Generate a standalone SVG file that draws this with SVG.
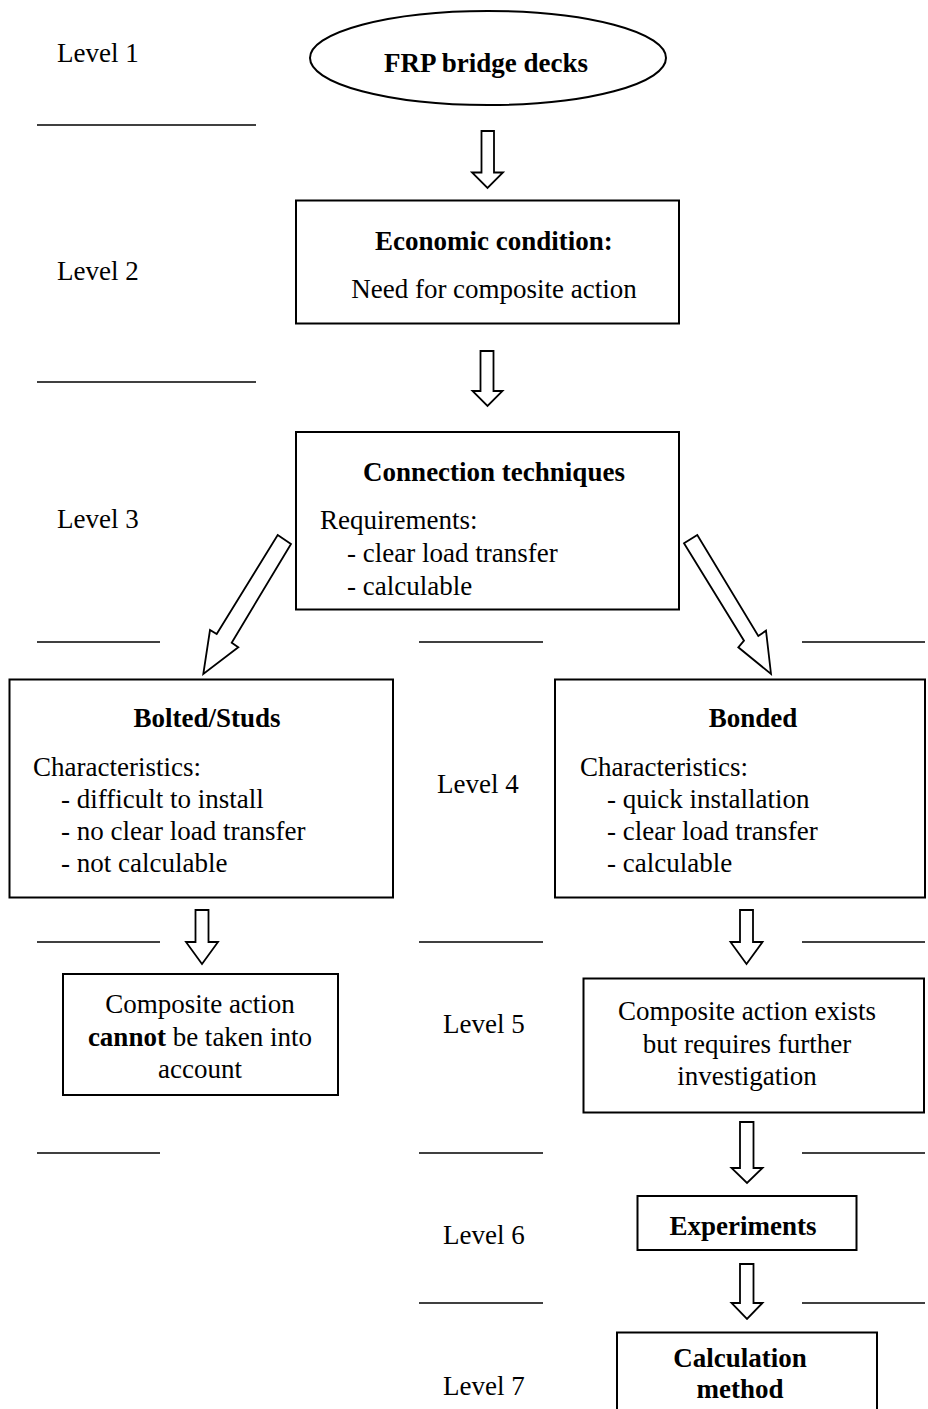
<svg xmlns="http://www.w3.org/2000/svg" width="928" height="1409" viewBox="0 0 928 1409">
<style>
text{font-family:"Liberation Serif","Times New Roman",serif;font-size:27px;fill:#000}
.b{font-weight:bold}
.c{text-anchor:middle}
.box{fill:#fff;stroke:#000;stroke-width:2}
.sep{stroke:#000;stroke-width:1.5}
.arr{fill:#fff;stroke:#000;stroke-width:1.8;stroke-linejoin:miter}
</style>
<rect width="928" height="1409" fill="#fff"/>
<g id="levels">
<text x="57" y="62">Level 1</text>
<text x="57" y="280">Level 2</text>
<text x="57" y="528">Level 3</text>
<text x="437" y="793">Level 4</text>
<text x="443" y="1033">Level 5</text>
<text x="443" y="1244">Level 6</text>
<text x="443" y="1395">Level 7</text>
</g>
<g id="separators">
<line class="sep" x1="37" y1="125" x2="256" y2="125"/>
<line class="sep" x1="37" y1="382" x2="256" y2="382"/>
<line class="sep" x1="37" y1="642" x2="160" y2="642"/>
<line class="sep" x1="419" y1="642" x2="543" y2="642"/>
<line class="sep" x1="802" y1="642" x2="925" y2="642"/>
<line class="sep" x1="37" y1="942" x2="160" y2="942"/>
<line class="sep" x1="419" y1="942" x2="543" y2="942"/>
<line class="sep" x1="802" y1="942" x2="925" y2="942"/>
<line class="sep" x1="37" y1="1153" x2="160" y2="1153"/>
<line class="sep" x1="419" y1="1153" x2="543" y2="1153"/>
<line class="sep" x1="802" y1="1153" x2="925" y2="1153"/>
<line class="sep" x1="419" y1="1303" x2="543" y2="1303"/>
<line class="sep" x1="802" y1="1303" x2="925" y2="1303"/>
</g>
<g id="connectors">
<polygon class="arr" points="481.5,131 494,131 494,172.5 503,172.5 487.5,188 472,172.5 481.5,172.5"/>
<polygon class="arr" points="480.5,351 493.5,351 493.5,391 502.5,391 487.5,406 472.5,391 480.5,391"/>
<polygon class="arr" points="277.7,535 291,544 231.7,642.7 238.3,647.3 203.3,674 210,630 216.7,634"/>
<polygon class="arr" points="684,543.3 697.3,535 758.3,636 766,630.7 771,674 738.3,647.3 744,640.7"/>
<polygon class="arr" points="195.5,910 208.5,910 208.5,942 218,942 202,964 186,942 195.5,942"/>
<polygon class="arr" points="740,910 753,910 753,942 762.5,942 746.5,964 730.5,942 740,942"/>
<polygon class="arr" points="740,1122 753.5,1122 753.5,1168 762.5,1168 747,1183 731.5,1168 740,1168"/>
<polygon class="arr" points="740,1264 753.5,1264 753.5,1303 762.5,1303 747,1319 731.5,1303 740,1303"/>
</g>
<g id="n-frp">
<ellipse cx="488" cy="58" rx="178" ry="47" fill="#fff" stroke="#000" stroke-width="2"/>
<text class="b c" x="486" y="72">FRP bridge decks</text>
</g>
<g id="n-economic">
<rect class="box" x="296" y="200.5" width="383" height="123"/>
<text class="b c" x="494" y="250">Economic condition:</text>
<text class="c" x="494" y="298">Need for composite action</text>
</g>
<g id="n-connection">
<rect class="box" x="296" y="432" width="383" height="177.5"/>
<text class="b c" x="494" y="481">Connection techniques</text>
<text x="320" y="529">Requirements:</text>
<text x="347" y="562">- clear load transfer</text>
<text x="347" y="595">- calculable</text>
</g>
<g id="n-bolted">
<rect class="box" x="9.5" y="679.5" width="383.5" height="218"/>
<text class="b c" x="207" y="727">Bolted/Studs</text>
<text x="33" y="776">Characteristics:</text>
<text x="61" y="808">- difficult to install</text>
<text x="61" y="840">- no clear load transfer</text>
<text x="61" y="872">- not calculable</text>
</g>
<g id="n-bonded">
<rect class="box" x="555" y="679.5" width="370" height="218"/>
<text class="b c" x="753" y="727">Bonded</text>
<text x="580" y="776">Characteristics:</text>
<text x="607" y="808">- quick installation</text>
<text x="607" y="840">- clear load transfer</text>
<text x="607" y="872">- calculable</text>
</g>
<g id="n-cannot">
<rect class="box" x="63" y="974" width="275" height="121"/>
<text class="c" x="200" y="1013">Composite action</text>
<text class="c" x="200" y="1046"><tspan class="b">cannot</tspan> be taken into</text>
<text class="c" x="200" y="1078">account</text>
</g>
<g id="n-exists">
<rect class="box" x="583.5" y="978.5" width="340.5" height="134"/>
<text class="c" x="747" y="1020">Composite action exists</text>
<text class="c" x="747" y="1053">but requires further</text>
<text class="c" x="747" y="1085">investigation</text>
</g>
<g id="n-experiments">
<rect class="box" x="637.5" y="1196" width="219" height="54"/>
<text class="b c" x="743" y="1235">Experiments</text>
</g>
<g id="n-calc">
<rect class="box" x="617" y="1332.5" width="260" height="90"/>
<text class="b c" x="740" y="1367">Calculation</text>
<text class="b c" x="740" y="1398">method</text>
</g>
</svg>
